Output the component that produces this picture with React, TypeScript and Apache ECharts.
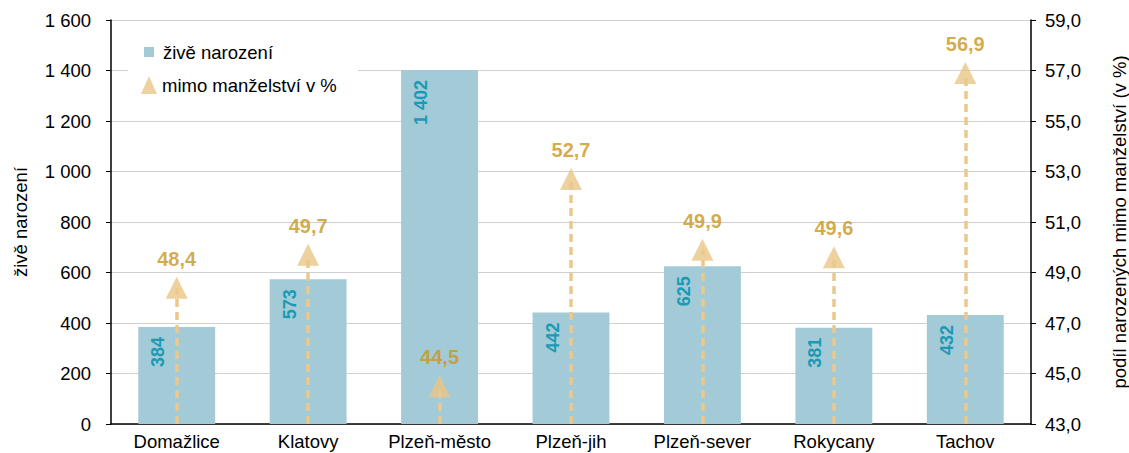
import React, { useEffect, useRef } from "react";
import * as echarts from "echarts";

const categories = ["Domažlice", "Klatovy", "Plzeň-město", "Plzeň-jih", "Plzeň-sever", "Rokycany", "Tachov"];
const births = [384, 573, 1402, 442, 625, 381, 432];
const outOfWedlock = [48.4, 49.7, 44.5, 52.7, 49.9, 49.6, 56.9];
const leftTicks = { min: 0, max: 1600, interval: 200 };
const rightTicks = { min: 43, max: 59, interval: 2 };

const FONT = "'Liberation Sans', Arial, sans-serif";
const FS = 18.5;
const fmtThousands = (v: number) => String(v).replace(/\B(?=(\d{3})+(?!\d))/g, " ");
const fmtComma = (v: number) => v.toFixed(1).replace(".", ",");

export default function App() {
  const ref = useRef<HTMLDivElement>(null);
  useEffect(() => {
    document.body.style.margin = "0";
    if (!ref.current) return;
    const chart = echarts.init(ref.current, undefined, { renderer: "svg" });
    const option: any = {
      animation: false,
      textStyle: { fontFamily: FONT },
      grid: { left: 111, right: 98, top: 20, bottom: 29, containLabel: false, outerBoundsMode: "none" },
      graphic: [
        { type: "rect", z: 3, shape: { x: 128, y: 30, width: 230, height: 72 }, style: { fill: "#fff" } },
      ],
      legend: [
        {
          data: [{ name: "živě narození", icon: "rect" }],
          orient: "vertical",
          left: 144,
          top: 41,
          itemWidth: 10,
          itemHeight: 10,
          padding: 0,
          textStyle: { fontSize: FS, color: "#000", fontFamily: FONT, lineHeight: 22, padding: [0, 0, 0, 4] },
        },
        {
          data: [{ name: "mimo manželství v %", icon: "triangle" }],
          orient: "vertical",
          left: 141,
          top: 74,
          itemWidth: 16,
          itemHeight: 18,
          padding: 0,
          textStyle: { fontSize: FS, color: "#000", fontFamily: FONT, lineHeight: 22 },
        },
      ],
      xAxis: {
        type: "category",
        data: categories,
        axisLine: { show: true, lineStyle: { color: "#000", width: 1.5 } },
        axisTick: { show: false },
        axisLabel: { color: "#000", fontSize: FS, fontFamily: FONT, margin: 8, interval: 0 },
      },
      yAxis: [
        {
          type: "value",
          min: leftTicks.min,
          max: leftTicks.max,
          interval: leftTicks.interval,
          name: "živě narození",
          nameLocation: "middle",
          nameRotate: 90,
          nameGap: 81,
          nameTextStyle: { fontSize: FS, color: "#000", fontFamily: FONT },
          axisLine: { show: true, lineStyle: { color: "#000", width: 1.5 } },
          axisTick: { show: true, length: 5, lineStyle: { color: "#000" } },
          axisLabel: { color: "#000", fontSize: FS, fontFamily: FONT, margin: 20, formatter: fmtThousands },
          splitLine: { show: true, lineStyle: { color: "#d0d0d0", width: 1.2 } },
        },
        {
          type: "value",
          position: "right",
          min: rightTicks.min,
          max: rightTicks.max,
          interval: rightTicks.interval,
          name: "podíl narozených mimo manželství (v %)",
          nameLocation: "middle",
          nameRotate: 90,
          nameGap: 79,
          nameTextStyle: { fontSize: FS, color: "#000", fontFamily: FONT },
          axisLine: { show: true, lineStyle: { color: "#000", width: 1.5 } },
          axisTick: { show: true, length: 5, lineStyle: { color: "#000" } },
          axisLabel: { color: "#000", fontSize: FS, fontFamily: FONT, margin: 14, formatter: fmtComma },
          splitLine: { show: false },
        },
      ],
      series: [
        {
          name: "živě narození",
          type: "bar",
          data: births,
          barWidth: "58.5%",
          z: 2,
          itemStyle: { color: "#a3cad7" },
          label: {
            show: true,
            position: ["26%", 10],
            rotate: 90,
            align: "right",
            verticalAlign: "middle",
            color: "#1a9ab5",
            fontSize: 18,
            fontWeight: "bold",
            fontFamily: FONT,
            formatter: (p: any) => fmtThousands(p.value),
          },
          emphasis: { disabled: true },
        },
        {
          name: "dropLines",
          type: "scatter",
          yAxisIndex: 1,
          data: outOfWedlock,
          symbolSize: 0,
          z: 3,
          silent: true,
          markLine: {
            silent: true,
            symbol: "none",
            label: { show: false },
            emphasis: { disabled: true },
            lineStyle: { color: "#ebc88c", width: 3.5, type: [8, 5] },
            data: categories.map((c, i) => [
              { coord: [c, rightTicks.min] },
              { coord: [c, outOfWedlock[i]] },
            ]),
          },
        },
        {
          name: "mimo manželství v %",
          type: "scatter",
          yAxisIndex: 1,
          data: outOfWedlock,
          symbol: "triangle",
          symbolSize: [22, 22],
          z: 4,
          itemStyle: { color: "#e8c586" },
          label: {
            show: true,
            position: "top",
            distance: 8,
            color: "#c9961a",
            fontSize: 20,
            fontWeight: "bold",
            fontFamily: FONT,
            formatter: (p: any) => fmtComma(p.value),
          },
          emphasis: { disabled: true },
        },
      ],
    };
    chart.setOption(option);
    return () => chart.dispose();
  }, []);
  return <div ref={ref} style={{ width: 1129, height: 453 }} />;
}
